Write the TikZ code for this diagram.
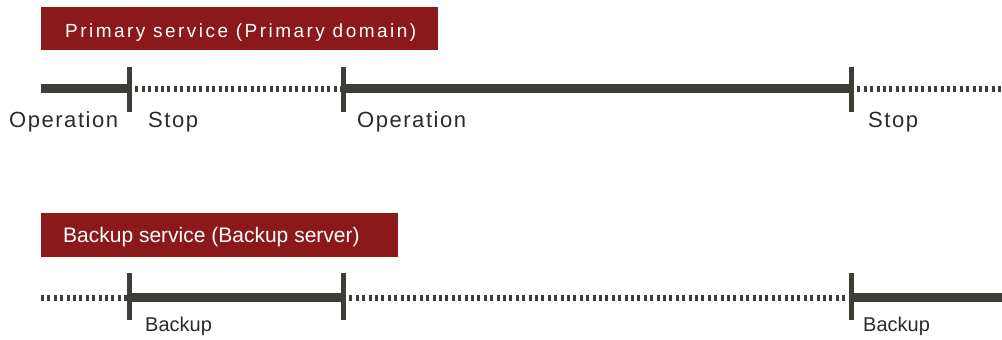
\documentclass[tikz,border=0pt]{standalone}
\usepackage{fontspec}
\setmainfont{Liberation Sans}
\newfontfamily\widefont[LetterSpace=7]{Liberation Sans}
\newfontfamily\titlefont[LetterSpace=13]{Liberation Sans}
\definecolor{linec}{HTML}{3E3D37}
\definecolor{boxc}{HTML}{8C1919}
\definecolor{labc}{HTML}{2A2A2A}
\begin{document}
\begin{tikzpicture}[x=1pt,y=1pt,
  titletext/.style={anchor=base west,inner sep=0pt,text=white},
  lab/.style={anchor=base west,inner sep=0pt,text=labc},
  run/.style={draw=linec,line width=9pt,line cap=butt},
  idle/.style={draw=linec,line width=6pt,line cap=butt,dash pattern=on 3pt off 3.4pt},
  tick/.style={draw=linec,line width=5pt,line cap=butt}]
\useasboundingbox (0,0) rectangle (1002,340);
% title boxes
\fill[boxc] (41,290) rectangle (438,333);
\node[titletext,font=\titlefont\fontsize{19}{21}\selectfont] (t1) at (65,302) {Primary service (Primary domain)};
\fill[boxc] (41,83) rectangle (398,127);
\node[titletext,font=\fontsize{21}{24}\selectfont] (t2) at (63,97) {Backup service (Backup server)};
% top timeline
\coordinate (a0) at (41,251);
\coordinate (a1) at (129,251);
\coordinate (a2) at (343,251);
\coordinate (a3) at (851,251);
\coordinate (a4) at (1002,251);
\draw[run] (a0) -- (a1);
\draw[idle] (a1) -- (a2);
\draw[run] (a2) -- (a3);
\draw[idle] (a3) -- (a4);
\foreach \p in {a1,a2,a3} \draw[tick] ([yshift=22pt]\p) -- ([yshift=-23pt]\p);
\node[lab,font=\widefont\fontsize{22}{25}\selectfont] (l1) at (9,212) {Operation};
\node[lab,font=\widefont\fontsize{22}{25}\selectfont] (l2) at (148,212) {Stop};
\node[lab,font=\widefont\fontsize{22}{25}\selectfont] (l3) at (357,212) {Operation};
\node[lab,font=\widefont\fontsize{22}{25}\selectfont] (l4) at (868,212) {Stop};
% bottom timeline
\coordinate (b0) at (41,42);
\coordinate (b1) at (129,42);
\coordinate (b2) at (343,42);
\coordinate (b3) at (851,42);
\coordinate (b4) at (1002,42);
\draw[idle] (b0) -- (b1);
\draw[run] (b1) -- (b2);
\draw[idle] (b2) -- (b3);
\draw[run] (b3) -- (b4);
\foreach \p in {b1,b2,b3} \draw[tick] ([yshift=25pt]\p) -- ([yshift=-22pt]\p);
\node[lab,font=\fontsize{20}{23}\selectfont] (m1) at (145,8) {Backup};
\node[lab,font=\fontsize{20}{23}\selectfont] (m2) at (863,8) {Backup};
\end{tikzpicture}
\end{document}
